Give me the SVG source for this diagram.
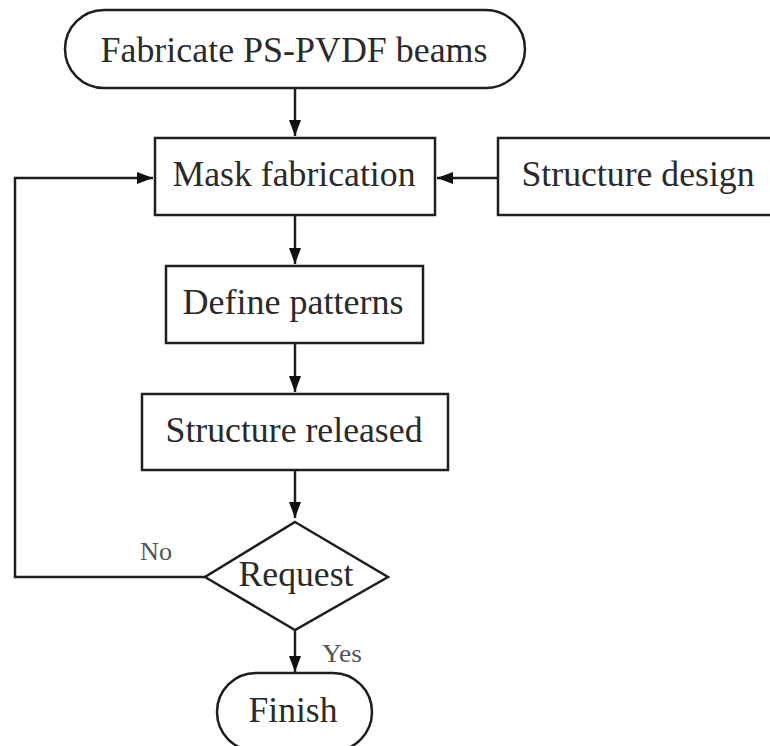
<svg xmlns="http://www.w3.org/2000/svg" width="770" height="746" viewBox="0 0 770 746" font-family="Liberation Serif, DejaVu Serif, serif">
<defs>
<style>
.shape{fill:#ffffff;stroke:#1e1e1e;stroke-width:2.5}
.edge{fill:none;stroke:#1e1e1e;stroke-width:2.5}
.t{font-size:36px;fill:#2a2a2a;text-anchor:middle}
.lbl{font-size:26px;fill:#555555;text-anchor:middle}
</style>
<marker id="ah" markerUnits="userSpaceOnUse" markerWidth="18" markerHeight="14" refX="16" refY="7" orient="auto">
<path d="M0,1 L16,7 L0,13 z" fill="#111111"/>
</marker>
</defs>
<rect width="770" height="746" fill="#ffffff"/>
<g id="connectors">
<line class="edge" x1="295" y1="88" x2="295" y2="136" marker-end="url(#ah)"/>
<line class="edge" x1="295" y1="215" x2="295" y2="264" marker-end="url(#ah)"/>
<line class="edge" x1="295" y1="343" x2="295" y2="392" marker-end="url(#ah)"/>
<line class="edge" x1="295" y1="470" x2="295" y2="518" marker-end="url(#ah)"/>
<line class="edge" x1="295" y1="630" x2="295" y2="672" marker-end="url(#ah)"/>
<line class="edge" x1="498" y1="178" x2="437" y2="178" marker-end="url(#ah)"/>
<polyline class="edge" points="205,577 15,577 15,178 153,178" marker-end="url(#ah)"/>
<text class="lbl" x="156" y="560" textLength="32" lengthAdjust="spacingAndGlyphs">No</text>
<text class="lbl" x="342" y="662" textLength="40" lengthAdjust="spacingAndGlyphs">Yes</text>
</g>
<g id="start">
<rect class="shape" x="65" y="10" width="460" height="78" rx="39" ry="39"/>
<text class="t" x="294" y="62" textLength="387" lengthAdjust="spacingAndGlyphs">Fabricate PS-PVDF beams</text>
</g>
<g id="mask">
<rect class="shape" x="155" y="138" width="280" height="77"/>
<text class="t" x="294" y="186" textLength="243" lengthAdjust="spacingAndGlyphs">Mask fabrication</text>
</g>
<g id="design">
<rect class="shape" x="498" y="138" width="292" height="77"/>
<text class="t" x="638" y="186" textLength="233" lengthAdjust="spacingAndGlyphs">Structure design</text>
</g>
<g id="define">
<rect class="shape" x="166" y="266" width="257" height="77"/>
<text class="t" x="293" y="314" textLength="221" lengthAdjust="spacingAndGlyphs">Define patterns</text>
</g>
<g id="released">
<rect class="shape" x="142" y="394" width="306" height="76"/>
<text class="t" x="294" y="442" textLength="257" lengthAdjust="spacingAndGlyphs">Structure released</text>
</g>
<g id="request">
<polygon class="shape" points="295,522 388,577 295,630 205,577"/>
<text class="t" x="296" y="586" textLength="115" lengthAdjust="spacingAndGlyphs">Request</text>
</g>
<g id="finish">
<rect class="shape" x="217" y="673" width="155" height="78" rx="39" ry="39"/>
<text class="t" x="293" y="722" textLength="89" lengthAdjust="spacingAndGlyphs">Finish</text>
</g>
</svg>
